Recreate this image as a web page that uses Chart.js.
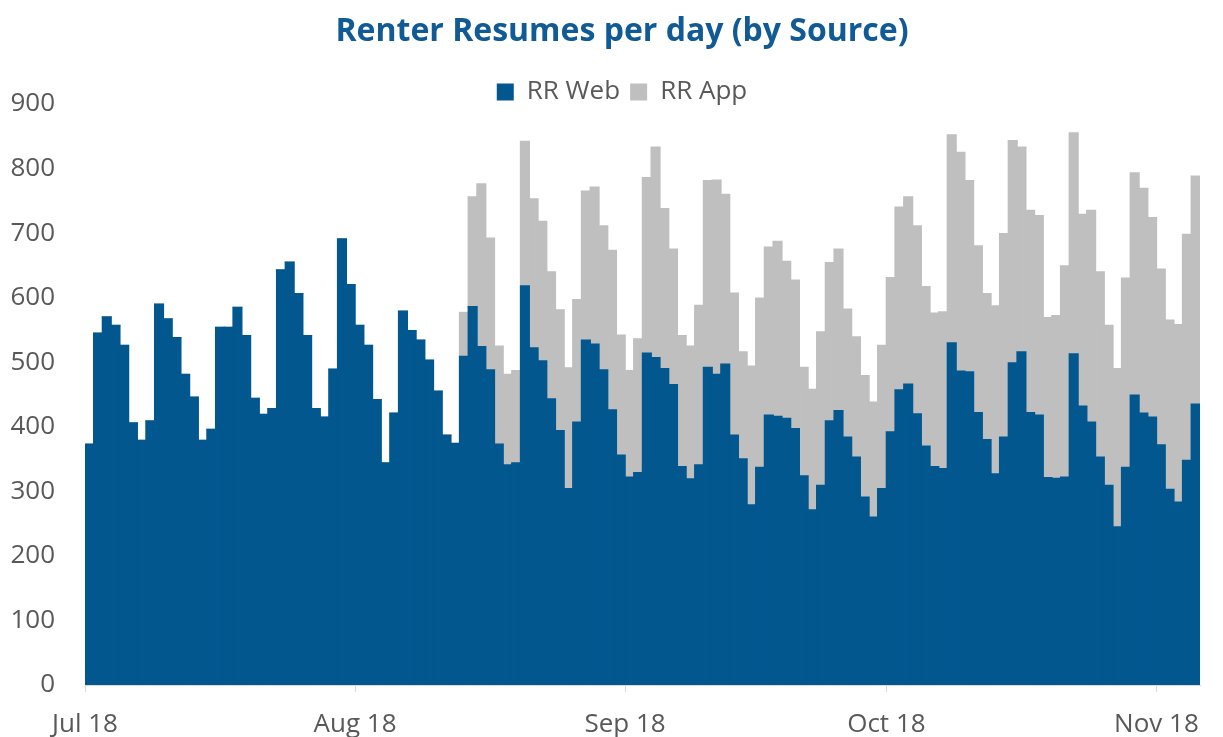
<!DOCTYPE html>
<html><head><meta charset="utf-8">
<script src="https://cdn.jsdelivr.net/npm/chart.js@4"></script>
<style>html,body{margin:0;padding:0;background:#fff;overflow:hidden}canvas{display:block}</style>
</head><body>
<canvas id="c" width="1223" height="737"></canvas>
<script>
// ---- data ----
const startYear = 2018, startMonth = 6, startDay = 1; // 1 Jul 2018
const dayCount = 128;
const monthLabels = ['Jul 18', 'Aug 18', 'Sep 18', 'Oct 18', 'Nov 18'];
const rrWeb = [
  373, 545, 570, 557, 526, 406, 379, 409, 590, 567, 538, 481, 446, 379, 396, 554,
  554, 585, 541, 444, 419, 428, 643, 655, 606, 541, 428, 415, 489, 691, 620,
  557, 526, 442, 344, 421, 579, 549, 534, 503, 455, 387, 374, 509, 586, 524, 488,
  373, 341, 344, 618, 522, 502, 443, 394, 304, 407, 534, 528, 488, 426, 356, 322,
  329, 514, 507, 490, 465, 338, 319, 341, 492, 481, 497, 387, 350, 279, 337, 418,
  416, 413, 397, 324, 271, 309, 409, 425, 384, 353, 291, 260, 304, 392,
  457, 466, 420, 370, 338, 335, 530, 486, 485, 422, 380, 327, 384, 499, 516, 422,
  418, 321, 320, 322, 513, 432, 407, 353, 309, 245, 337, 449, 421, 415,
  372, 303, 283, 348, 435
];
const rrApp = [
  0, 0, 0, 0, 0, 0, 0, 0, 0, 0, 0, 0, 0, 0, 0, 0,
  0, 0, 0, 0, 0, 0, 0, 0, 0, 0, 0, 0, 0, 0, 0,
  0, 0, 0, 0, 0, 0, 0, 0, 0, 0, 0, 0, 68, 170, 252, 204,
  152, 140, 143, 224, 231, 216, 197, 187, 187, 190, 231, 243, 223, 247, 186, 165,
  207, 272, 326, 248, 210, 203, 206, 247, 289, 301, 263, 220, 166, 215, 262, 260,
  271, 243, 230, 168, 187, 238, 245, 250, 198, 186, 188, 178, 222, 239,
  283, 290, 291, 247, 238, 243, 322, 339, 296, 258, 226, 260, 315, 344, 317, 313,
  309, 248, 252, 327, 342, 297, 328, 287, 248, 245, 293, 344, 348, 309,
  272, 262, 275, 350, 353
];

// ---- derived ----
const days = [];
for (let i = 0; i < dayCount; i++) days.push(new Date(startYear, startMonth, startDay + i));
const monthStarts = days.map((d, i) => d.getDate() === 1 ? i : -1).filter(i => i >= 0);
const toPoints = arr => arr.map((v, i) => ({ x: i + 0.5, y: v }));

const BLUE = '#02578F', GRAY = '#BFBFBF', TXT = '#595959', TITLE = '#105A95';
const FONT = "'Open Sans', 'Noto Sans', sans-serif";

// place title and legend as in the reference (slightly right, legend closer to plot)
const headerShift = {
  id: 'headerShift',
  afterLayout(chart) {
    const t = chart.titleBlock, l = chart.legend;
    if (t) { t.left += 22; t.right += 22; }
    if (l) { l.left += 22; l.right += 22; l.top += 11; l.bottom += 11; }
  }
};

new Chart(document.getElementById('c'), {
  type: 'bar',
  data: {
    datasets: [
      { label: 'RR Web', data: toPoints(rrWeb), backgroundColor: BLUE, borderWidth: 0,
        inflateAmount: 0.7, categoryPercentage: 1, barPercentage: 1 },
      { label: 'RR App', data: toPoints(rrApp), backgroundColor: GRAY, borderWidth: 0,
        inflateAmount: 0.7, categoryPercentage: 1, barPercentage: 1 }
    ]
  },
  plugins: [headerShift],
  options: {
    responsive: false,
    animation: false,
    layout: { padding: { left: 0, right: 23, top: 0, bottom: 0 } },
    plugins: {
      title: { display: true, text: 'Renter Resumes per day (by Source)', color: TITLE,
        font: { family: FONT, size: 32, weight: 'bold' }, padding: { top: 13, bottom: 6.6 } },
      legend: { labels: { boxWidth: 17, boxHeight: 17, color: TXT, padding: 10,
        font: { family: FONT, size: 26 } } },
      tooltip: { enabled: false }
    },
    scales: {
      x: {
        type: 'linear', stacked: true, min: 0, max: dayCount, offset: false,
        afterBuildTicks: s => { s.ticks = monthStarts.map(v => ({ value: v })); },
        afterFit: s => { s.height = 52; },
        grid: { display: true, drawOnChartArea: false, drawTicks: true, tickLength: 7,
          color: '#D9D9D9', offset: false },
        border: { display: true, color: '#D9D9D9', width: 1 },
        ticks: { autoSkip: false, maxRotation: 0, padding: 17, color: TXT,
          font: { family: FONT, size: 26 },
          callback: v => monthLabels[monthStarts.indexOf(v)] }
      },
      y: {
        stacked: true, min: 0, max: 900,
        grid: { display: false, drawTicks: false },
        border: { display: false },
        afterFit: s => { s.width = 85; },
        ticks: { stepSize: 100, padding: 30, color: TXT, font: { family: FONT, size: 26 } }
      }
    }
  }
});
</script>
</body></html>
